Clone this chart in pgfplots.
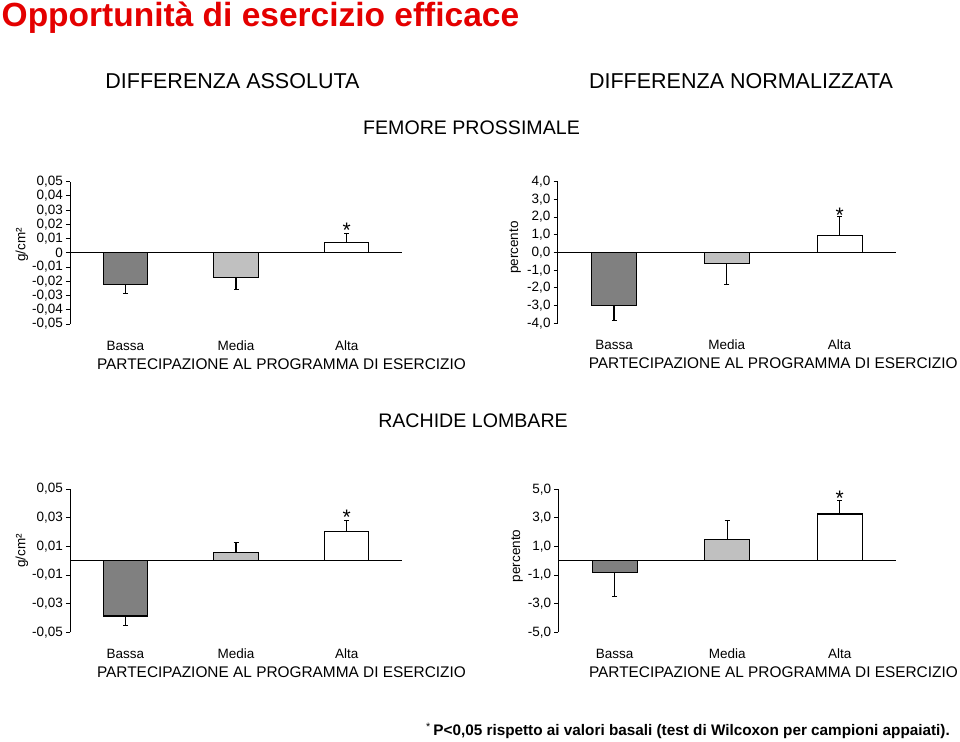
\documentclass[border=0pt]{standalone}
\usepackage{pgfplots}
\pgfplotsset{compat=1.18}
\usepackage{fontspec}
\setmainfont{Liberation Sans}

\definecolor{darkbar}{RGB}{128,128,128}
\definecolor{lightbar}{RGB}{192,192,192}
\definecolor{titlered}{RGB}{228,0,0}

\newcommand{\tickfont}{\fontsize{13.5}{14}\selectfont}
\newcommand{\labfont}{\fontsize{15.4}{16}\selectfont}

\tikzset{signif/.style={anchor=north, inner sep=0pt, font=\fontsize{21}{21}\selectfont}}

\pgfplotsset{
  panel/.style={
    scale only axis,
    anchor=north west,
    clip=false,
    scaled y ticks=false,
    xmin=-0.5, xmax=2.5,
    axis x line*=bottom,
    axis y line*=left,
    x axis line style={draw=none},
    y axis line style={line width=0.9pt, -},
    xtick={0,1,2},
    xticklabels={Bassa,Media,Alta},
    xtick style={draw=none},
    xticklabel style={font=\tickfont, anchor=base, yshift=-22pt},
    tick align=outside,
    major tick length=4pt,
    ytick style={line width=0.9pt, black},
    yticklabel style={font=\tickfont, anchor=east, inner sep=0pt, xshift=-3pt},
    xlabel={PARTECIPAZIONE AL PROGRAMMA DI ESERCIZIO},
    xlabel style={font=\labfont, at={(axis description cs:0.637,0)}, anchor=center, yshift=-40pt},
    ylabel style={font=\tickfont, anchor=center},
  },
  % one bar per category, error bar only on the side away from zero
  bar/.style={ybar, bar width=0.4, bar shift=0pt, draw=black, line width=1.1pt,
    error bars/y dir=#1, error bars/y explicit,
    error bars/error bar style={line width=1.2pt, black},
    error bars/error mark=|,
    error bars/error mark options={black, line width=1.2pt, mark size=2.5pt}},
}

\begin{document}
\begin{tikzpicture}
\path[use as bounding box] (0,0) rectangle (960pt,-741pt);

% titles
\node[anchor=base west, inner sep=0pt, text=titlered,
  font=\bfseries\fontsize{33.5}{34}\selectfont] at (1.5pt,-26.5pt) {Opportunità di esercizio efficace};
\node[inner sep=0pt, font=\fontsize{21.5}{22}\selectfont] at (232.4pt,-80.8pt) {DIFFERENZA ASSOLUTA};
\node[inner sep=0pt, font=\fontsize{21.5}{22}\selectfont] at (741pt,-80.8pt) {DIFFERENZA NORMALIZZATA};
\node[inner sep=0pt, font=\fontsize{19.6}{20}\selectfont] at (471.5pt,-128pt) {FEMORE PROSSIMALE};
\node[inner sep=0pt, font=\fontsize{19.6}{20}\selectfont] at (473pt,-421pt) {RACHIDE LOMBARE};
\node[anchor=base east, inner sep=0pt, font=\bfseries\fontsize{15.3}{16}\selectfont]
  at (950pt,-735.5pt) {\textsuperscript{\mdseries *}\,P<0,05 rispetto ai valori basali (test di Wilcoxon per campioni appaiati).};

% femore, differenza assoluta
\begin{axis}[panel, at={(70pt,-181.7pt)}, width=332pt, height=142.3pt,
  ymin=-0.05, ymax=0.05,
  ytick={-0.05,-0.04,-0.03,-0.02,-0.01,0,0.01,0.02,0.03,0.04,0.05},
  yticklabels={-0{,}05,-0{,}04,-0{,}03,-0{,}02,-0{,}01,0,0{,}01,0{,}02,0{,}03,0{,}04,0{,}05},
  ylabel={g/cm²}, ylabel style={at={(axis description cs:-0.145,0.555)}}]
\addplot[bar=minus, fill=darkbar] coordinates {(0,-0.0225) +- (0,0.0061)};
\addplot[bar=minus, fill=lightbar] coordinates {(1,-0.0174) +- (0,0.0086)};
\addplot[bar=plus, fill=white] coordinates {(2,0.0072) +- (0,0.0062)};
\draw[line width=1.1pt] (axis cs:-0.5,0) -- (axis cs:2.5,0);
\node[signif] at (axis cs:2,0.0213) {*};
\end{axis}

% femore, differenza normalizzata
\begin{axis}[panel, at={(557.7pt,-181.7pt)}, width=338.3pt, height=141.6pt,
  ymin=-4, ymax=4,
  ytick={-4,-3,-2,-1,0,1,2,3,4},
  yticklabels={-4{,}0,-3{,}0,-2{,}0,-1{,}0,0{,}0,1{,}0,2{,}0,3{,}0,4{,}0},
  ylabel={percento}, ylabel style={at={(axis description cs:-0.126,0.535)}}]
\addplot[bar=minus, fill=darkbar] coordinates {(0,-2.99) +- (0,0.87)};
\addplot[bar=minus, fill=lightbar] coordinates {(1,-0.60) +- (0,1.23)};
\addplot[bar=plus, fill=white] coordinates {(2,0.94) +- (0,1.09)};
\draw[line width=1.1pt] (axis cs:-0.5,0) -- (axis cs:2.5,0);
\node[signif] at (axis cs:2,2.54) {*};
\end{axis}

% rachide, differenza assoluta
\begin{axis}[panel, at={(70pt,-489pt)}, width=332pt, height=143.3pt,
  ymin=-0.05, ymax=0.05,
  ytick={-0.05,-0.03,-0.01,0.01,0.03,0.05},
  yticklabels={-0{,}05,-0{,}03,-0{,}01,0{,}01,0{,}03,0{,}05},
  ylabel={g/cm²}, ylabel style={at={(axis description cs:-0.145,0.567)}}]
\addplot[bar=minus, fill=darkbar] coordinates {(0,-0.0386) +- (0,0.0064)};
\addplot[bar=plus, fill=lightbar] coordinates {(1,0.0059) +- (0,0.0069)};
\addplot[bar=plus, fill=white] coordinates {(2,0.0202) +- (0,0.0077)};
\draw[line width=1.1pt] (axis cs:-0.5,0) -- (axis cs:2.5,0);
\node[signif] at (axis cs:2,0.0352) {*};
\end{axis}

% rachide, differenza normalizzata
\begin{axis}[panel, at={(558.3pt,-489.3pt)}, width=337.7pt, height=143pt,
  ymin=-5, ymax=5,
  ytick={-5,-3,-1,1,3,5},
  yticklabels={-5{,}0,-3{,}0,-1{,}0,1{,}0,3{,}0,5{,}0},
  ylabel={percento}, ylabel style={at={(axis description cs:-0.122,0.534)}}]
\addplot[bar=minus, fill=darkbar] coordinates {(0,-0.84) +- (0,1.68)};
\addplot[bar=plus, fill=lightbar] coordinates {(1,1.52) +- (0,1.28)};
\addplot[bar=plus, fill=white] coordinates {(2,3.27) +- (0,0.97)};
\draw[line width=1.1pt] (axis cs:-0.5,0) -- (axis cs:2.5,0);
\node[signif] at (axis cs:2,4.87) {*};
\end{axis}
\end{tikzpicture}
\end{document}
